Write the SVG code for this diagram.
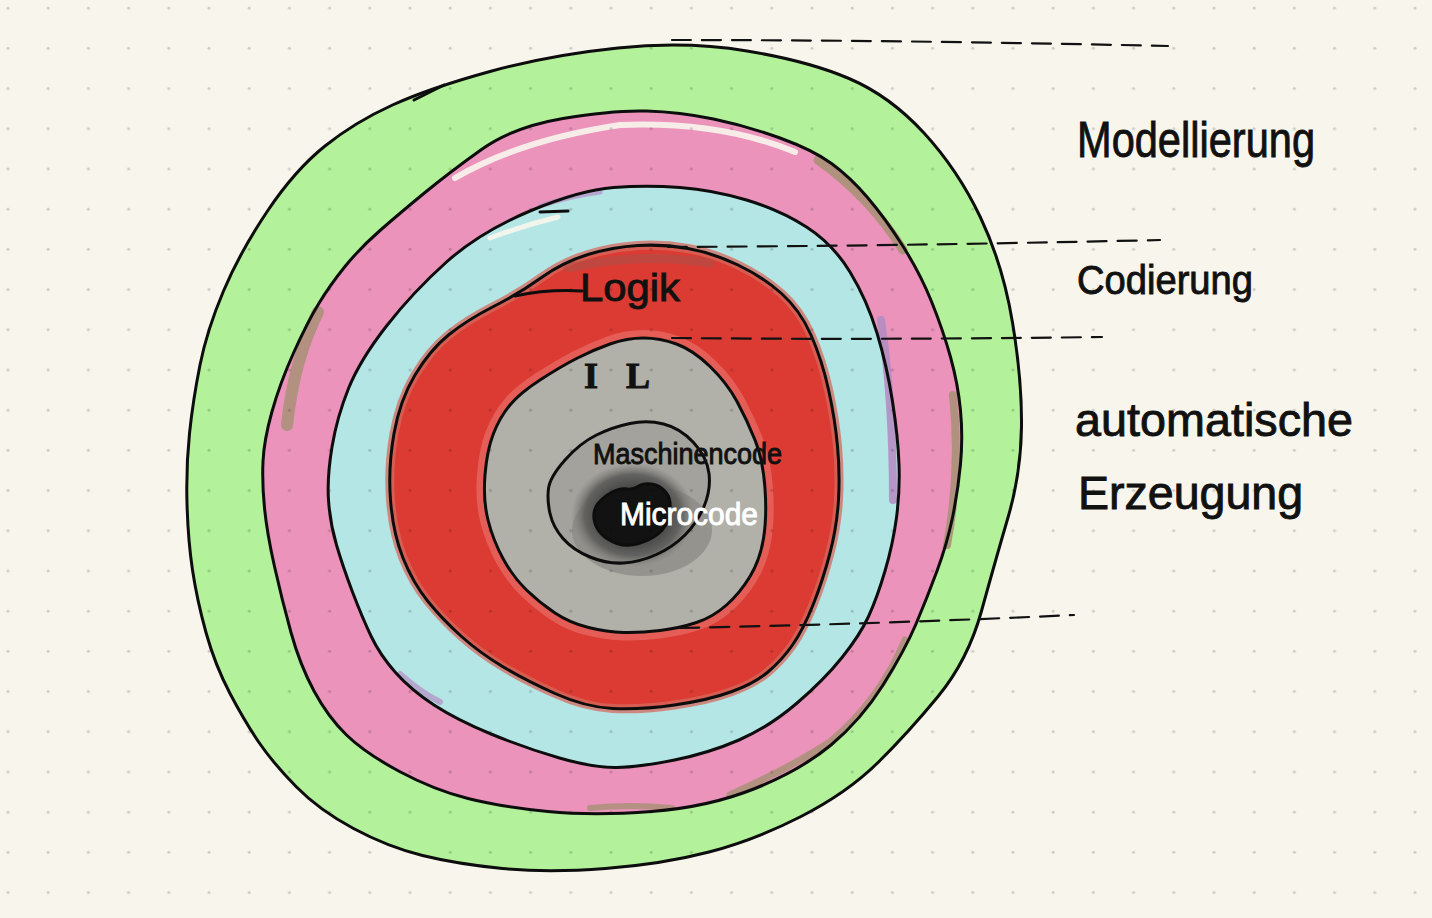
<svg xmlns="http://www.w3.org/2000/svg" width="1432" height="918" viewBox="0 0 1432 918">
  <defs>
    <pattern id="dots" patternUnits="userSpaceOnUse" width="40.2" height="40.2">
      <circle cx="8" cy="8" r="1.5" fill="#000" fill-opacity="0.17"/>
    </pattern>
    <radialGradient id="halo" cx="0.5" cy="0.5" r="0.5">
      <stop offset="0" stop-color="#222221"/>
      <stop offset="0.5" stop-color="#454543"/>
      <stop offset="0.78" stop-color="#626260"/>
      <stop offset="1" stop-color="#7e7d7a" stop-opacity="0"/>
    </radialGradient>
    <path id="o1" d="M618,48 Q686,41 747,51 Q808,61 849,78.5 Q890,96 924,133 Q958,170 980.5,217.5 Q1003,265 1012.5,322.5 Q1022,380 1021.5,426.5 Q1021,473 1008,517.5 Q995,562 981.5,611 Q968,660 938,696.5 Q908,733 877.5,763 Q847,793 801,816.5 Q755,840 709,852 Q663,864 605.5,868.5 Q548,873 502.5,868.5 Q457,864 422.5,855.5 Q388,847 353.5,828.5 Q319,810 296,786.5 Q273,763 259,742.5 Q245,722 230,693.5 Q215,665 206,632.5 Q197,600 192.5,570 Q188,540 187,503.5 Q186,467 189.5,433.5 Q193,400 200,365 Q207,330 223.5,291 Q240,252 267.5,211 Q295,170 325,146 Q355,122 392.5,105 Q430,88 490,71.5 Q550,55 618,48 Z"/>
    <path id="o2" d="M563,118.5 Q613,110 646.5,111 Q680,112 713.5,119 Q747,126 780,138 Q813,150 831.5,163.5 Q850,177 867.5,197.5 Q885,218 902.5,245.5 Q920,273 931.5,301.5 Q943,330 950.5,357 Q958,384 960.5,410.5 Q963,437 960.5,464 Q958,491 952.5,517.5 Q947,544 937,571 Q927,598 916,624 Q905,650 883,685 Q861,720 831,745 Q801,770 755,788.5 Q709,807 651.5,811.5 Q594,816 548,811.5 Q502,807 468,798.5 Q434,790 399.5,771.5 Q365,753 346.5,735 Q328,717 314,691 Q300,665 291,632.5 Q282,600 274.5,566.5 Q267,533 264.5,508 Q262,483 263,461.5 Q264,440 272,411.5 Q280,383 293.5,353 Q307,323 318.5,304 Q330,285 345,266.5 Q360,248 380,230.5 Q400,213 425,192.5 Q450,172 481.5,149.5 Q513,127 563,118.5 Z"/>
    <path id="o3" d="M613.5,187.5 Q647,185 680,187.5 Q713,190 746.5,200 Q780,210 806.5,227 Q833,244 850,272 Q867,300 877,333 Q887,366 892.5,401.5 Q898,437 899,464 Q900,491 896.5,517.5 Q893,544 885,571 Q877,598 868.5,616.5 Q860,635 842,657.5 Q824,680 796.5,703.5 Q769,727 739,740 Q709,753 674.5,760 Q640,767 617,767.5 Q594,768 559.5,758 Q525,748 491,734 Q457,720 434,705 Q411,690 395.5,672.5 Q380,655 371,636 Q362,617 352.5,592 Q343,567 336.5,545 Q330,523 328.5,500 Q327,477 332,447 Q337,417 348.5,388.5 Q360,360 386.5,326 Q413,292 446.5,262 Q480,232 530,211 Q580,190 613.5,187.5 Z"/>
    <path id="o4" d="M638,245.5 Q663,244 688,248.5 Q713,253 738,265 Q763,277 781.5,293.5 Q800,310 811,335 Q822,360 828.5,389.5 Q835,419 837.5,446 Q840,473 838.5,499.5 Q837,526 830,553 Q823,580 813,605 Q803,630 792.5,645 Q782,660 768.5,671.5 Q755,683 732,691.5 Q709,700 674.5,705 Q640,710 612.5,708.5 Q585,707 555,693.5 Q525,680 502.5,666.5 Q480,653 461.5,636.5 Q443,620 428,601.5 Q413,583 403,558 Q393,533 390.5,500 Q388,467 394,433.5 Q400,400 415,375 Q430,350 448.5,335 Q467,320 493.5,306.5 Q520,293 541.5,277.5 Q563,262 588,254.5 Q613,247 638,245.5 Z"/>
    <path id="o5" d="M610,344 Q627,338 643.5,338 Q660,338 676.5,344 Q693,350 710,366.5 Q727,383 737,401.5 Q747,420 755,440 Q763,460 765,488.5 Q767,517 763.5,538.5 Q760,560 750,576.5 Q740,593 726.5,605 Q713,617 696.5,622.5 Q680,628 660,630.5 Q640,633 623.5,632.5 Q607,632 588.5,627.5 Q570,623 555,613 Q540,603 526.5,590 Q513,577 503,558.5 Q493,540 488,520 Q483,500 485,475 Q487,450 493.5,433.5 Q500,417 510,405 Q520,393 540,380 Q560,367 576.5,358.5 Q593,350 610,344 Z"/>
    <path id="o6" d="M630,423.5 Q647,420 663.5,424 Q680,428 693.5,442.5 Q707,457 709,473.5 Q711,490 704,506.5 Q697,523 685,535 Q673,547 656.5,554.5 Q640,562 623.5,563 Q607,564 590,557 Q573,550 563,538.5 Q553,527 550,513.5 Q547,500 548.5,488.5 Q550,477 565,460 Q580,443 596.5,435 Q613,427 630,423.5 Z"/>
    <path id="o7" d="M598,503.5 Q603,497 611.5,492.5 Q620,488 626.5,489 Q633,490 638,486.5 Q643,483 651.5,484 Q660,485 666,492.5 Q672,500 669.5,513.5 Q667,527 658.5,533.5 Q650,540 638.5,543.5 Q627,547 617,543.5 Q607,540 601,533.5 Q595,527 594,518.5 Q593,510 598,503.5 Z"/>
    <style>
      .ol { fill: none; stroke: #0d0d0d; stroke-width: 3; stroke-linecap: round; stroke-linejoin: round; }
      .dash { fill: none; stroke: #111; stroke-width: 2.2; stroke-dasharray: 19 11; stroke-linecap: round; }
      .hand { font-family: "Liberation Sans", "DejaVu Sans", sans-serif; fill: #111; stroke: #111; stroke-width: 0.9; }
      .smear { fill: none; stroke-linecap: round; stroke-linejoin: round; }
    </style>
  </defs>

  <rect x="0" y="0" width="1432" height="918" fill="#f8f6ec"/>

  <!-- Modellierung ring (green) -->
  <g id="ring-modellierung">
    <use href="#o1" fill="#b3f29b"/>
  </g>

  <!-- pink ring -->
  <g id="ring-pink">
    <use href="#o2" fill="#eb93bb"/>
    <path class="smear" stroke="#f8f6ec" stroke-width="6" stroke-opacity="0.9" d="M455,178 Q520,140 620,125 Q720,121 795,152"/>
    <path class="smear" stroke="#a89177" stroke-width="9" stroke-opacity="0.9" d="M818,160 Q870,197 903,250"/>
    <path class="smear" stroke="#a89177" stroke-width="8" stroke-opacity="0.9" d="M953,395 Q961,470 947,545"/>
    <path class="smear" stroke="#a89177" stroke-width="12" stroke-opacity="0.85" d="M287,425 Q294,360 318,312"/>
    <path class="smear" stroke="#a89177" stroke-width="7" stroke-opacity="0.85" d="M905,640 Q880,700 830,742 Q790,768 730,795"/>
    <path class="smear" stroke="#a89177" stroke-width="6" stroke-opacity="0.8" d="M590,808 Q630,804 672,808"/>
  </g>

  <!-- cyan ring -->
  <g id="ring-cyan">
    <use href="#o3" fill="#b5e6e6"/>
    <path class="smear" stroke="#b48dc3" stroke-width="8" stroke-opacity="0.9" d="M881,320 Q893,400 893,500"/>
    <path class="smear" stroke="#b48dc3" stroke-width="6" stroke-opacity="0.7" d="M400,674 Q420,692 440,702"/>
    <path class="smear" stroke="#b48dc3" stroke-width="5" stroke-opacity="0.7" d="M540,206 Q570,196 600,192"/>
    <path class="smear" stroke="#f8f6ec" stroke-width="5" stroke-opacity="0.9" d="M490,238 Q525,225 558,217"/>
  </g>

  <!-- Logik ring (red) -->
  <g id="ring-logik">
    <use href="#o4" fill="#db3b32"/>
    <use href="#o4" fill="none" stroke="#d66a5e" stroke-width="9" stroke-opacity="0.75"/>
    <path class="smear" stroke="#b04e47" stroke-width="9" stroke-opacity="0.65" d="M568,268 Q640,252 710,263"/>
  </g>

  <!-- IL (gray) -->
  <g id="ring-il">
    <use href="#o5" fill="none" stroke="#e4625a" stroke-width="16" stroke-opacity="0.9"/>
    <use href="#o5" fill="#b1b0a9"/>
  </g>

  <!-- Maschinencode (mid gray) -->
  <g id="ring-maschinencode">
    <use href="#o6" fill="#a3a29d"/>
    <ellipse cx="642" cy="530" rx="70" ry="46" fill="#8b8a86" opacity="0.75"/>
    <ellipse cx="633" cy="515" rx="62" ry="52" fill="url(#halo)"/>
  </g>

  <!-- Microcode (black core) -->
  <g id="core-microcode">
    <use href="#o7" fill="#121212"/>
  </g>

  <!-- dot grid overlay -->
  <rect x="0" y="0" width="1432" height="918" fill="url(#dots)"/>

  <!-- outlines -->
  <g id="outlines">
    <use href="#o1" class="ol"/>
    <path class="ol" d="M414,100 L444,85"/>
    <use href="#o2" class="ol"/>
    <use href="#o3" class="ol"/>
    <path class="ol" d="M568,211 L540,212"/>
    <use href="#o4" class="ol"/>
    <path class="ol" d="M515,296 Q548,289 582,291"/>
    <use href="#o5" class="ol"/>
    <use href="#o6" class="ol"/>
    <use href="#o7" class="ol"/>
  </g>

  <!-- connectors: dashed level separators -->
  <g id="connectors">
    <path class="dash" d="M672,40 Q900,40 1168,46"/>
    <path class="dash" d="M668,247 Q900,246 1160,240"/>
    <path class="dash" d="M672,338 Q880,340 1102,337"/>
    <path class="dash" d="M680,628 Q880,624 1074,615"/>
  </g>

  <!-- labels -->
  <g id="labels">
    <text class="hand" x="580" y="301" font-size="38" textLength="100" lengthAdjust="spacingAndGlyphs">Logik</text>
    <text class="hand" x="584 626" y="388" font-size="36" font-weight="bold" style="font-family:'Liberation Serif','DejaVu Serif',serif">IL</text>
    <text class="hand" x="593" y="464" font-size="29" textLength="189" lengthAdjust="spacingAndGlyphs">Maschinencode</text>
    <text class="hand" x="620" y="525" font-size="31" textLength="138" lengthAdjust="spacingAndGlyphs" style="fill:#ffffff;stroke:#ffffff">Microcode</text>
    <text class="hand" x="1077" y="157" font-size="50" textLength="238" lengthAdjust="spacingAndGlyphs">Modellierung</text>
    <text class="hand" x="1077" y="294" font-size="40" textLength="176" lengthAdjust="spacingAndGlyphs">Codierung</text>
    <text class="hand" x="1075" y="436" font-size="47" textLength="278" lengthAdjust="spacingAndGlyphs">automatische</text>
    <text class="hand" x="1078" y="509" font-size="46" textLength="225" lengthAdjust="spacingAndGlyphs">Erzeugung</text>
  </g>
</svg>
